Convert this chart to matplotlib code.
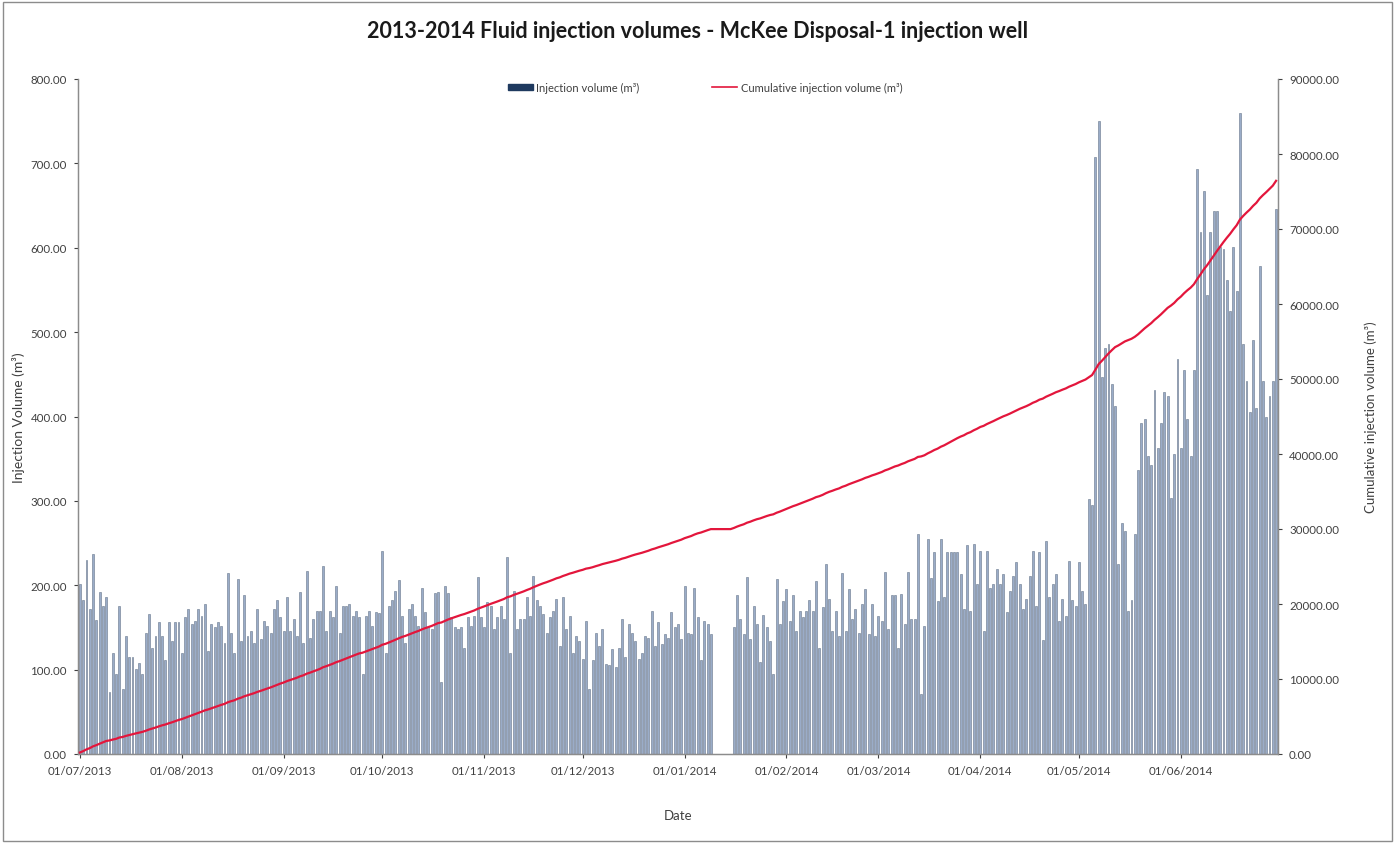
import numpy as np
import pandas as pd
import matplotlib
matplotlib.use("Agg")
import matplotlib.pyplot as plt
import matplotlib.dates as mdates
from matplotlib.patches import Patch, Rectangle
from matplotlib.lines import Line2D
from matplotlib.ticker import FuncFormatter, MultipleLocator

# ---- data: daily injection volumes (m3) ----
jul_2013 = [201, 182, 230, 172, 237, 159, 192, 175, 186, 73,
            120, 95, 175, 77, 140, 115, 115, 101, 108, 95,
            144, 166, 126, 140, 157, 140, 111, 156, 134, 156, 157]
aug_2013 = [120, 162, 172, 154, 158, 172, 164, 178, 122,
            154, 150, 156, 152, 132, 215, 144, 120, 208, 134,
            189, 140, 146, 132, 172, 136, 158, 152, 144, 172, 182, 162]
sep_2013 = [146, 186, 146, 160, 140, 192, 132, 217, 138, 160, 169,
            170, 223, 146, 170, 162, 199, 144, 175, 175, 178,
            164, 170, 162, 95, 164, 170, 152, 168, 167]
oct_2013 = [241, 120, 175, 182, 193, 206, 164, 132, 172, 178, 164,
            152, 197, 168, 150, 148, 191, 192, 85, 199, 191,
            162, 150, 148, 150, 126, 162, 152, 164, 210, 162]
nov_2013 = [150, 180, 176, 148, 162, 175, 160, 233, 120, 193,
            148, 160, 160, 186, 164, 211, 182, 176, 166, 144,
            162, 170, 184, 128, 186, 148, 164, 120, 140, 134]
dec_2013 = [113, 158, 77, 111, 144, 128, 148, 107, 105, 124,
            103, 126, 160, 115, 154, 144, 134, 113, 120, 140,
            138, 170, 128, 156, 130, 142, 138, 168, 150, 154, 136]
jan_2014 = [199, 144, 142, 197, 162, 111, 158, 154, 142, 0,
            0, 0, 0, 0, 0, 151, 189, 160, 142, 210,
            136, 176, 154, 109, 165, 151, 134, 95, 208, 154, 181]
feb_2014 = [196, 158, 188, 146, 169, 162, 170, 183, 169, 205,
            126, 174, 225, 184, 146, 169, 140, 214, 146, 196,
            160, 172, 144, 178, 196, 142, 178, 140]
mar_2014 = [164, 158, 216, 148, 189, 189, 126, 190, 154, 216,
            160, 160, 261, 71, 152, 255, 209, 239, 181, 255,
            186, 239, 239, 239, 239, 213, 172, 248, 170, 249, 201]
apr_2014 = [241, 146, 241, 197, 201, 219, 201, 213, 168, 193,
            211, 227, 201, 172, 184, 211, 241, 176, 240, 135,
            253, 186, 201, 213, 158, 184, 164, 229, 182, 176]
may_2014 = [228, 193, 178, 302, 295, 708, 750, 447, 481, 486,
            439, 413, 225, 274, 264, 170, 183, 261, 337, 392,
            397, 353, 342, 431, 363, 392, 429, 424, 303, 355, 468]
jun_2014 = [363, 455, 397, 353, 455, 693, 619, 667, 544, 619,
            643, 643, 601, 598, 562, 525, 601, 549, 760, 486,
            442, 405, 491, 410, 578, 442, 400, 424, 442, 646]

daily = np.array(jul_2013 + aug_2013 + sep_2013 + oct_2013 + nov_2013 + dec_2013 +
                 jan_2014 + feb_2014 + mar_2014 + apr_2014 + may_2014 + jun_2014, dtype=float)
dates = pd.date_range("2013-07-01", periods=len(daily), freq="D")
cumulative = np.cumsum(daily)

title = "2013-2014 Fluid injection volumes - McKee Disposal-1 injection well"
bar_label = "Injection volume (m\u00b3)"
line_label = "Cumulative injection volume (m\u00b3)"

# ---- figure ----
plt.rcParams['font.family'] = ['Lato', 'DejaVu Sans']
fig = plt.figure(figsize=(13.96, 8.45), dpi=100)
ax = fig.add_axes([78/1396, 1-755/845, (1278-78)/1396, (755-80)/845])
ax2 = ax.twinx()

ax.bar(dates, daily, width=0.6, color='#9AACC8', edgecolor='#66758A', linewidth=0.4, zorder=2)
ax2.plot(dates, cumulative, color='#E3163C', lw=1.6, zorder=3)

ax.set_xlim(pd.Timestamp("2013-07-01") - pd.Timedelta(hours=14),
            pd.Timestamp("2014-06-30") + pd.Timedelta(hours=14))
ax.set_ylim(0, 800)
ax2.set_ylim(0, 90000)
ax.yaxis.set_major_locator(MultipleLocator(100))
ax2.yaxis.set_major_locator(MultipleLocator(10000))
fmt = FuncFormatter(lambda v, p: f"{v:.2f}")
ax.yaxis.set_major_formatter(fmt)
ax2.yaxis.set_major_formatter(fmt)
ax.xaxis.set_major_locator(mdates.MonthLocator(bymonthday=1))
ax.xaxis.set_major_formatter(mdates.DateFormatter('%d/%m/%Y'))

tick_col = '#404040'
spine_col = '#8C8C8C'
for a in (ax, ax2):
    a.tick_params(axis='both', labelsize=8.3, colors=tick_col, length=3, width=0.8, direction='out')
    for s in a.spines.values():
        s.set_color(spine_col)
        s.set_linewidth(0.9)
    a.spines['top'].set_visible(False)
for lab in ax.get_xticklabels() + ax.get_yticklabels() + ax2.get_yticklabels():
    lab.set_color(tick_col)
ax.tick_params(axis='x', pad=5)
ax.tick_params(axis='y', pad=5)
ax2.tick_params(axis='y', pad=5)

ax.set_xlabel("Date", fontsize=9.5, color=tick_col, labelpad=24)
ax.set_ylabel("Injection Volume (m\u00b3)", fontsize=10, color=tick_col, labelpad=4)
ax2.set_ylabel(line_label, fontsize=9.5, color=tick_col, labelpad=18)

fig.text(0.5, 1-31/845, title, ha='center', va='center', fontsize=15.5, fontweight='bold', color='#1a1a1a')

handles = [Patch(facecolor='#1F3A5F', edgecolor='#1F3A5F'),
           Line2D([0], [0], color='#E3163C', lw=1.2)]
fig.legend(handles, [bar_label, line_label], loc='center', bbox_to_anchor=(0.505, 1-88/845),
           ncol=2, frameon=False, fontsize=8, columnspacing=6.5, handlelength=2.3,
           handleheight=0.45, handletextpad=0.3, labelcolor='#404040')

fig.patches.append(Rectangle((0.002, 0.003), 0.995, 0.994, transform=fig.transFigure,
                             fill=False, edgecolor='#8C8C8C', lw=1.0))

fig.savefig("out.png", dpi=100)
